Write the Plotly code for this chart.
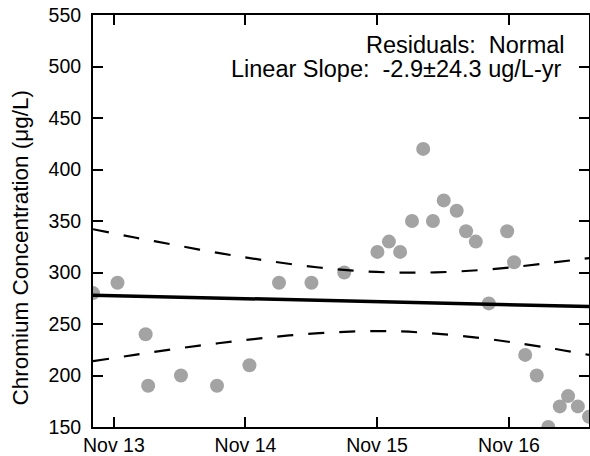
import plotly.graph_objects as go

# Sample dates and chromium concentrations (ug/L)
dates = ["2013-09-04", "2013-11-11", "2014-01-28", "2014-02-04", "2014-05-06",
         "2014-08-14", "2014-11-12", "2015-02-02", "2015-05-03", "2015-08-02",
         "2015-11-02", "2015-12-04", "2016-01-04", "2016-02-06", "2016-03-08",
         "2016-04-04", "2016-05-04", "2016-06-09", "2016-07-05", "2016-08-01",
         "2016-09-06", "2016-10-27", "2016-11-15", "2016-12-16", "2017-01-17",
         "2017-02-18", "2017-03-22", "2017-04-14", "2017-05-11", "2017-06-11"]
values = [280, 290, 240, 190, 200, 190, 210, 290, 290, 300,
          320, 330, 320, 350, 420, 350, 370, 360, 340, 330,
          270, 340, 310, 220, 200, 150, 170, 180, 170, 160]

# Linear fit end points
fit_dates = ["2013-09-04", "2017-06-11"]
fit_values = [278, 267]

# Confidence band
band_dates = ["2013-09-04", "2013-12-29", "2014-04-22", "2014-08-17", "2014-12-11",
              "2015-04-15", "2015-08-18", "2015-12-16", "2016-04-11", "2016-08-14",
              "2016-12-03", "2017-03-11", "2017-06-11"]
band_upper = [342, 334, 326.5, 319, 312.5, 306.4, 302, 300, 300.1, 302.4, 306, 310, 314]
band_lower = [214, 220, 226, 231.3, 236, 240.2, 242.6, 243, 240.7, 236.4, 231, 225.7, 220]

tick_dates = ["2013-11-01", "2014-11-01", "2015-11-01", "2016-11-01"]
tick_labels = ["Nov 13", "Nov 14", "Nov 15", "Nov 16"]
y_ticks = [150, 200, 250, 300, 350, 400, 450, 500, 550]

FONT = "Liberation Sans, Arial, sans-serif"

fig = go.Figure()
fig.add_trace(go.Scatter(x=dates, y=values, mode="markers",
                         marker=dict(size=14, color="#a3a3a3", line=dict(width=0)),
                         showlegend=False, hoverinfo="skip"))
fig.add_trace(go.Scatter(x=fit_dates, y=fit_values, mode="lines",
                         line=dict(color="black", width=3.5), showlegend=False))
for band in (band_upper, band_lower):
    fig.add_trace(go.Scatter(x=band_dates, y=band, mode="lines",
                             line=dict(color="black", width=2.2, dash="16px,15px",
                                       shape="spline"),
                             showlegend=False))

fig.add_annotation(xref="paper", yref="paper", x=0.9556, y=0.927,
                   xanchor="right", yanchor="middle", showarrow=False,
                   text="Residuals:\u00a0\u00a0Normal",
                   font=dict(family=FONT, size=23.5, color="black"))
fig.add_annotation(xref="paper", yref="paper", x=0.9496, y=0.868,
                   xanchor="right", yanchor="middle", showarrow=False,
                   text="Linear Slope:\u00a0\u00a0-2.9±24.3 ug/L-yr",
                   font=dict(family=FONT, size=23.5, color="black"))
# y-axis title
fig.add_annotation(xref="paper", yref="paper", x=-0.146, y=0.4345,
                   xanchor="center", yanchor="middle", showarrow=False, textangle=-90,
                   text="Chromium Concentration (μg/L)",
                   font=dict(family=FONT, size=22.5, color="black"))

fig.update_layout(
    width=590, height=456,
    margin=dict(l=93, r=1, t=15, b=29, autoexpand=False),
    plot_bgcolor="white", paper_bgcolor="white",
    font=dict(family=FONT, color="black"),
    xaxis=dict(type="date", range=[dates[0], dates[-1]],
               tickvals=tick_dates, ticktext=tick_labels,
               ticks="inside", ticklen=10, tickwidth=1.5, tickcolor="black",
               showline=True, linecolor="black", linewidth=2, mirror="ticks",
               showgrid=False, zeroline=False, automargin=False,
               tickfont=dict(family=FONT, size=19.5, color="black")),
    yaxis=dict(range=[150, 550], tickvals=y_ticks,
               ticks="inside", ticklen=10, tickwidth=1.5, tickcolor="black",
               showline=True, linecolor="black", linewidth=2, mirror="ticks",
               showgrid=False, zeroline=False, ticklabelstandoff=6, automargin=False,
               tickfont=dict(family=FONT, size=19.5, color="black")),
)

fig.write_html("out.html", config={"displayModeBar": False},
               post_script="document.body.style.margin='0';document.body.style.overflow='hidden';")
